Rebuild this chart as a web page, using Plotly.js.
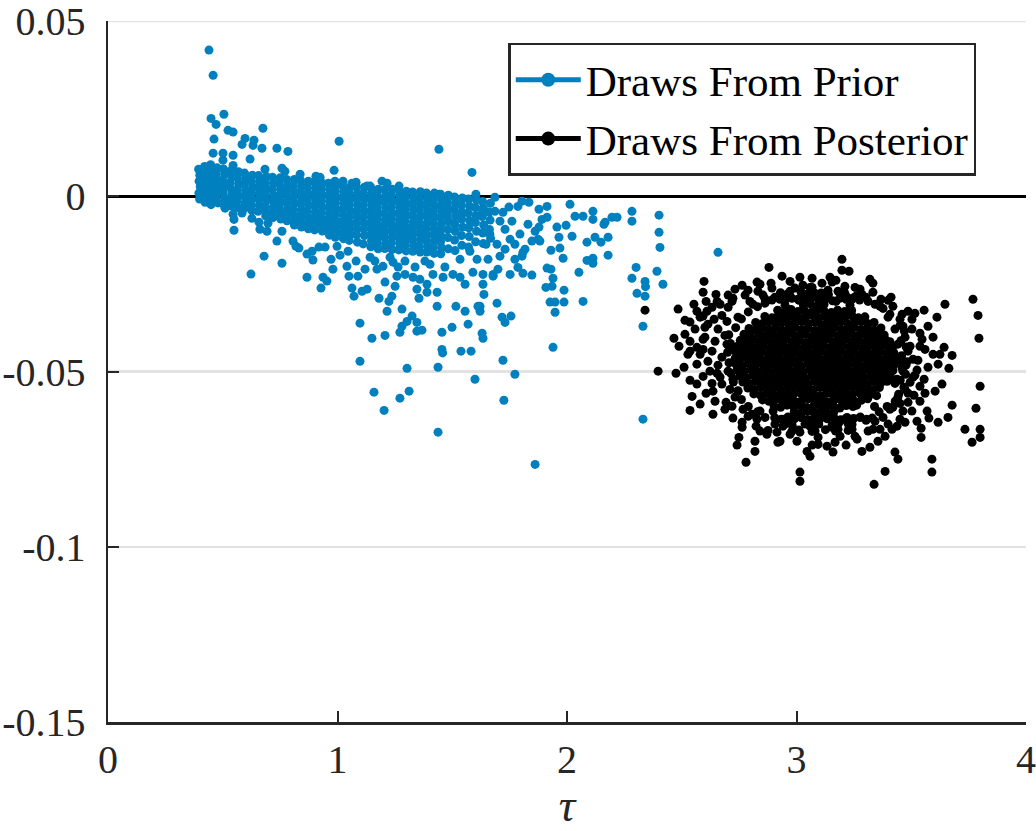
<!DOCTYPE html>
<html><head><meta charset="utf-8">
<script src="https://cdn.plot.ly/plotly-3.0.1.min.js"></script>
<style>html,body{margin:0;padding:0;background:#fff;}#chart{width:1036px;height:831px;}</style>
</head><body><div id="chart"></div>
<script>
const seriesNames = ['Draws From Prior', 'Draws From Posterior'];
const xTickVals = [0, 1, 2, 3, 4];
const xTickText = ['0', '1', '2', '3', '4'];
const yTickVals = [-0.15, -0.1, -0.05, 0, 0.05];
const yTickText = ['-0.15', '-0.1', '-0.05', '0', '0.05'];

const priorTau = [
0.395,0.400,0.397,0.402,0.396,0.399,
0.421,0.425,0.419,0.424,0.427,0.420,0.423,
0.447,0.452,0.445,0.450,0.454,0.446,0.451,0.449,
0.476,0.471,0.478,0.473,0.477,0.472,0.479,
0.503,0.508,0.501,0.506,0.502,0.509,0.504,
0.534,0.539,0.532,0.537,0.540,0.533,0.538,
0.568,0.563,0.569,0.564,0.567,0.562,0.566,
0.595,0.599,0.594,0.600,0.596,0.598,0.593,
0.629,0.624,0.630,0.626,0.628,0.623,0.627,
0.656,0.660,0.655,0.661,0.657,0.659,0.654,
0.690,0.685,0.689,0.686,0.691,0.684,0.688,0.687,
0.717,0.721,0.716,0.722,0.718,0.720,0.715,0.719,
0.751,0.746,0.752,0.747,0.750,0.745,0.749,0.753,
0.778,0.782,0.777,0.783,0.779,0.781,0.776,0.780,
0.812,0.807,0.811,0.808,0.813,0.806,0.810,0.809,0.812,
0.839,0.843,0.838,0.844,0.840,0.842,0.837,0.841,0.843,
0.873,0.868,0.872,0.869,0.874,0.867,0.871,0.870,0.873,
0.900,0.904,0.899,0.905,0.901,0.903,0.898,0.902,0.900,
0.934,0.929,0.933,0.930,0.935,0.928,0.932,0.931,0.934,
0.961,0.965,0.960,0.966,0.962,0.964,0.959,0.963,0.961,0.965,
0.995,0.990,0.994,0.991,0.996,0.989,0.993,0.992,0.995,0.990,
1.022,1.026,1.021,1.027,1.023,1.025,1.020,1.024,1.022,1.026,
1.056,1.051,1.055,1.052,1.057,1.050,1.054,1.053,1.056,1.051,
1.083,1.087,1.082,1.088,1.084,1.086,1.081,1.085,1.083,1.087,
1.117,1.112,1.116,1.113,1.118,1.111,1.115,1.114,1.117,1.112,
1.144,1.148,1.143,1.149,1.145,1.147,1.142,1.146,1.144,1.148,1.145,
1.178,1.173,1.177,1.174,1.179,1.172,1.176,1.175,1.178,1.173,1.177,
1.205,1.209,1.204,1.210,1.206,1.208,1.203,1.207,1.205,1.209,1.206,
1.239,1.234,1.238,1.235,1.240,1.233,1.237,1.236,1.239,1.234,1.238,
1.266,1.270,1.265,1.271,1.267,1.269,1.264,1.268,1.266,1.270,1.267,
1.300,1.295,1.299,1.296,1.301,1.294,1.298,1.297,1.300,1.295,1.299,
1.327,1.331,1.326,1.332,1.328,1.330,1.325,1.329,1.327,1.331,1.328,
1.361,1.356,1.360,1.357,1.362,1.355,1.359,1.358,1.361,1.356,1.360,
1.388,1.392,1.387,1.393,1.389,1.391,1.386,1.390,1.388,1.392,1.389,
1.422,1.417,1.421,1.418,1.423,1.416,1.420,1.419,1.422,1.417,1.421,
1.449,1.453,1.448,1.454,1.450,1.452,1.447,1.451,1.449,1.453,1.450,
1.483,1.478,1.482,1.479,1.484,1.480,1.481,1.483,
1.510,1.514,1.509,1.515,1.511,1.513,1.510,1.512,
1.544,1.540,1.543,1.541,1.545,1.540,1.542,
1.571,1.575,1.570,1.576,1.572,1.574,1.571,
1.605,1.600,1.604,1.601,1.606,1.602,
1.632,1.636,1.631,1.637,1.633,1.635,
1.666,1.661,1.665,1.662,1.667,
0.440,0.458,0.505,0.449,0.471,0.523,0.545,0.675,0.462,0.597,
0.636,0.584,0.632,0.671,0.458,0.501,0.545,0.736,0.784,1.007,
1.442,1.586,0.619,0.501,0.545,0.758,0.985,0.906,1.142,1.268,
1.128,1.442,1.603,0.684,0.771,0.837,0.924,0.989,1.081,1.063,
1.024,1.194,1.216,0.510,0.545,0.584,0.549,0.627,0.549,0.658,
0.662,0.697,0.693,0.736,0.758,0.680,0.758,0.623,0.806,0.832,
0.867,0.867,0.893,0.919,0.946,0.937,0.954,0.928,0.972,0.980,
0.998,1.041,1.050,1.063,1.072,1.089,1.107,1.129,1.098,1.150,
1.098,1.159,1.203,1.181,1.216,1.224,1.237,1.207,1.207,1.172,
1.198,1.242,1.259,1.251,1.281,1.272,1.281,1.303,1.325,1.346,
1.346,1.368,1.303,1.272,1.312,1.355,1.390,1.390,1.434,1.434,
1.455,1.455,1.458,1.438,1.438,1.499,1.516,1.538,1.582,1.556,
1.569,1.599,1.612,1.556,1.503,1.590,1.329,1.359,1.416,1.460,
1.294,1.346,0.819,0.889,1.011,1.081,1.142,1.046,1.120,1.163,
1.229,1.294,1.338,1.403,1.468,1.264,1.381,1.686,2.013,1.913,
1.878,1.834,1.804,1.786,1.747,1.721,2.035,2.070,2.113,2.113,
2.166,2.196,2.218,2.283,2.283,2.401,2.401,2.405,2.392,2.418,
2.301,2.283,2.340,2.342,2.305,2.340,2.331,2.331,1.861,1.939,
1.987,1.987,2.070,2.052,2.087,2.113,2.113,2.087,2.122,2.148,
2.179,2.179,2.161,2.022,1.983,1.969,1.956,1.965,1.996,1.930,
1.913,1.930,1.939,1.908,1.935,1.926,1.948,1.948,1.891,1.913,
1.878,1.874,1.847,1.817,1.804,1.773,1.786,1.752,1.808,1.847,
1.699,1.678,1.634,1.634,1.638,1.695,1.717,1.730,1.756,1.621,
1.621,1.630,1.634,1.721,1.773,1.725,1.678,1.808,1.708,1.656,
1.608,1.577,1.534,1.534,1.730,1.760,1.795,1.830,1.861,1.752,
1.708,1.664,1.695,1.773,1.730,1.647,1.686,1.630,1.882,2.658
];
const priorBeta = [
0.0077,0.0060,0.0043,0.0027,0.0009,-0.0008,
0.0085,0.0068,0.0052,0.0034,0.0017,0.0001,-0.0017,
0.0090,0.0074,0.0056,0.0040,0.0022,0.0005,-0.0011,-0.0024,
0.0081,0.0065,0.0047,0.0031,0.0015,-0.0003,-0.0019,
0.0078,0.0062,0.0044,0.0028,0.0010,-0.0006,-0.0024,
0.0072,0.0055,0.0039,0.0021,0.0005,-0.0013,-0.0028,
0.0070,0.0054,0.0036,0.0019,0.0002,-0.0014,-0.0032,
0.0066,0.0049,0.0033,0.0015,-0.0002,-0.0019,-0.0036,
0.0060,0.0043,0.0027,0.0009,-0.0008,-0.0025,-0.0041,
0.0059,0.0042,0.0025,0.0008,-0.0009,-0.0026,-0.0043,
0.0056,0.0039,0.0022,0.0005,-0.0012,-0.0029,-0.0045,-0.0056,
0.0054,0.0037,0.0020,0.0003,-0.0014,-0.0031,-0.0048,-0.0061,
0.0053,0.0036,0.0019,0.0002,-0.0015,-0.0032,-0.0049,-0.0065,
0.0048,0.0031,0.0014,-0.0003,-0.0020,-0.0037,-0.0054,-0.0070,
0.0048,0.0031,0.0014,-0.0003,-0.0020,-0.0037,-0.0054,-0.0071,-0.0082,
0.0045,0.0028,0.0011,-0.0006,-0.0023,-0.0040,-0.0057,-0.0074,-0.0088,
0.0043,0.0026,0.0009,-0.0008,-0.0025,-0.0042,-0.0059,-0.0076,-0.0093,
0.0040,0.0023,0.0006,-0.0011,-0.0028,-0.0045,-0.0062,-0.0079,-0.0096,
0.0037,0.0020,0.0003,-0.0014,-0.0031,-0.0048,-0.0065,-0.0082,-0.0099,
0.0037,0.0020,0.0003,-0.0014,-0.0031,-0.0048,-0.0065,-0.0082,-0.0098,-0.0111,
0.0031,0.0014,-0.0003,-0.0020,-0.0037,-0.0054,-0.0071,-0.0088,-0.0104,-0.0117,
0.0031,0.0014,-0.0003,-0.0020,-0.0037,-0.0054,-0.0071,-0.0088,-0.0105,-0.0121,
0.0026,0.0009,-0.0008,-0.0025,-0.0042,-0.0059,-0.0076,-0.0093,-0.0110,-0.0126,
0.0026,0.0009,-0.0008,-0.0025,-0.0042,-0.0059,-0.0076,-0.0093,-0.0110,-0.0131,
0.0026,0.0009,-0.0008,-0.0025,-0.0042,-0.0059,-0.0076,-0.0093,-0.0112,-0.0136,
0.0026,0.0009,-0.0008,-0.0025,-0.0042,-0.0059,-0.0076,-0.0093,-0.0110,-0.0127,-0.0144,
0.0020,0.0003,-0.0014,-0.0031,-0.0048,-0.0065,-0.0082,-0.0099,-0.0116,-0.0133,-0.0150,
0.0018,0.0001,-0.0016,-0.0033,-0.0050,-0.0067,-0.0084,-0.0101,-0.0118,-0.0135,-0.0149,
0.0020,0.0003,-0.0014,-0.0031,-0.0048,-0.0065,-0.0082,-0.0099,-0.0116,-0.0133,-0.0152,
0.0019,0.0002,-0.0015,-0.0032,-0.0049,-0.0066,-0.0083,-0.0100,-0.0117,-0.0134,-0.0153,
0.0014,-0.0003,-0.0020,-0.0037,-0.0054,-0.0071,-0.0088,-0.0105,-0.0122,-0.0139,-0.0156,
0.0012,-0.0005,-0.0022,-0.0039,-0.0056,-0.0073,-0.0090,-0.0107,-0.0124,-0.0141,-0.0157,
0.0013,-0.0004,-0.0021,-0.0038,-0.0055,-0.0072,-0.0089,-0.0106,-0.0123,-0.0141,-0.0159,
0.0009,-0.0008,-0.0025,-0.0042,-0.0059,-0.0076,-0.0093,-0.0110,-0.0127,-0.0144,-0.0159,
0.0009,-0.0008,-0.0025,-0.0042,-0.0059,-0.0076,-0.0093,-0.0110,-0.0127,-0.0145,-0.0163,
0.0006,-0.0011,-0.0028,-0.0045,-0.0062,-0.0079,-0.0096,-0.0113,-0.0130,-0.0147,-0.0164,
0.0003,-0.0016,-0.0033,-0.0055,-0.0072,-0.0095,-0.0118,-0.0150,
-0.0002,-0.0020,-0.0040,-0.0058,-0.0080,-0.0100,-0.0125,-0.0155,
-0.0005,-0.0025,-0.0045,-0.0065,-0.0088,-0.0112,-0.0140,
-0.0008,-0.0028,-0.0048,-0.0070,-0.0090,-0.0115,-0.0145,
-0.0010,-0.0032,-0.0055,-0.0075,-0.0100,-0.0130,
-0.0015,-0.0035,-0.0058,-0.0082,-0.0105,-0.0135,
-0.0020,-0.0045,-0.0068,-0.0095,-0.0120,
0.0417,0.0345,0.0234,0.0222,0.0205,0.0188,0.0183,0.0194,0.0163,0.0165,
0.0160,0.0148,0.0145,0.0137,0.0123,0.0123,0.0117,0.0137,0.0128,0.0157,
0.0134,0.0068,0.0106,0.0103,0.0088,0.0080,0.0074,0.0057,0.0029,0.0029,
0.0029,0.0006,0.0006,0.0077,0.0071,0.0063,0.0054,0.0043,0.0040,0.0037,
0.0043,0.0043,0.0037,-0.0034,-0.0051,-0.0048,-0.0066,-0.0063,-0.0097,-0.0074,
-0.0094,-0.0077,-0.0100,-0.0128,-0.0100,-0.0171,-0.0191,-0.0222,-0.0128,-0.0148,
-0.0165,-0.0231,-0.0182,-0.0145,-0.0145,-0.0231,-0.0242,-0.0262,-0.0180,-0.0208,
-0.0143,-0.0200,-0.0228,-0.0262,-0.0285,-0.0228,-0.0271,-0.0265,-0.0362,-0.0405,
-0.0471,-0.0559,-0.0611,-0.0291,-0.0328,-0.0300,-0.0285,-0.0397,-0.0245,-0.0208,
-0.0200,-0.0188,-0.0228,-0.0257,-0.0322,-0.0388,-0.0371,-0.0357,-0.0342,-0.0360,
-0.0385,-0.0382,-0.0491,-0.0576,-0.0556,-0.0291,-0.0274,-0.0251,-0.0314,-0.0274,
-0.0388,-0.0437,-0.0447,-0.0488,-0.0673,-0.0374,-0.0314,-0.0442,-0.0442,-0.0328,
-0.0365,-0.0522,-0.0314,-0.0251,-0.0223,-0.0217,-0.0231,-0.0237,-0.0223,-0.0231,
-0.0223,-0.0265,-0.0143,-0.0157,-0.0168,-0.0185,-0.0174,-0.0157,-0.0208,-0.0185,
-0.0174,-0.0185,-0.0202,-0.0194,-0.0202,-0.0202,-0.0185,-0.0003,-0.0023,-0.0029,
-0.0037,-0.0017,-0.0014,-0.0029,-0.0031,-0.0046,-0.0057,-0.0057,-0.0043,-0.0066,
-0.0074,-0.0060,-0.0060,-0.0043,-0.0071,-0.0054,-0.0103,-0.0146,-0.0214,-0.0251,
-0.0203,-0.0234,-0.0243,-0.0258,-0.0277,-0.0285,-0.0371,-0.0636,-0.0765,-0.0431,
-0.0268,-0.0302,-0.0300,-0.0217,-0.0183,-0.0177,-0.0191,-0.0131,-0.0117,-0.0131,
-0.0117,-0.0168,-0.0080,-0.0114,-0.0177,-0.0148,-0.0088,-0.0117,-0.0083,-0.0154,
-0.0205,-0.0208,-0.0234,-0.0260,-0.0257,-0.0302,-0.0302,-0.0331,-0.0066,-0.0060,
-0.0088,-0.0123,-0.0128,-0.0151,-0.0171,-0.0180,-0.0203,-0.0223,-0.0220,-0.0225,
-0.0208,-0.0223,-0.0223,-0.0251,-0.0280,-0.0305,-0.0345,-0.0360,-0.0342,-0.0314,
-0.0328,-0.0391,-0.0405,-0.0468,-0.0508,-0.0582,-0.0228,-0.0160,-0.0171,-0.0180,
-0.0180,-0.0157,-0.0180,-0.0231,-0.0094,-0.0071,-0.0108,-0.0080,-0.0100,-0.0123,
-0.0071,-0.0108,-0.0137,-0.0137,-0.0151,-0.0137,-0.0043,-0.0037,-0.0128,-0.0160
];

const postTau = [
3.030,3.061,3.089,3.120,
2.918,2.949,2.976,3.006,3.034,3.065,3.092,3.121,3.152,3.179,3.210,3.240,
2.862,2.893,2.920,2.951,2.979,3.010,3.037,3.068,3.095,3.125,3.153,3.184,3.211,3.242,3.270,3.298,
2.822,2.850,2.879,2.908,2.936,2.966,2.993,3.023,3.051,3.080,3.109,3.137,3.166,3.194,3.224,3.252,3.281,3.309,3.338,
2.793,2.821,2.851,2.879,2.909,2.937,2.965,2.995,3.023,3.052,3.081,3.110,3.138,3.167,3.196,3.224,3.253,3.282,3.311,3.339,3.368,
2.771,2.799,2.836,2.865,2.893,2.922,2.951,2.980,3.008,3.037,3.066,3.095,3.123,3.152,3.181,3.210,3.238,3.267,3.296,3.325,3.353,3.382,
2.755,2.784,2.812,2.841,2.870,2.898,2.928,2.956,2.985,3.014,3.043,3.071,3.100,3.129,3.158,3.186,3.215,3.244,3.272,3.301,3.330,3.359,3.387,3.407,
2.743,2.770,2.799,2.827,2.856,2.885,2.913,2.942,2.971,3.000,3.028,3.057,3.086,3.115,3.143,3.172,3.201,3.230,3.258,3.287,3.316,3.345,3.373,3.402,3.420,
2.737,2.766,2.794,2.822,2.851,2.880,2.908,2.937,2.966,2.994,3.023,3.052,3.080,3.109,3.138,3.166,3.195,3.224,3.252,3.281,3.310,3.338,3.367,3.396,3.424,
2.733,2.750,2.779,2.808,2.837,2.865,2.894,2.923,2.951,2.980,3.009,3.037,3.066,3.095,3.123,3.152,3.181,3.209,3.238,3.267,3.295,3.324,3.353,3.381,3.410,3.429,
2.736,2.764,2.793,2.822,2.850,2.879,2.908,2.936,2.965,2.994,3.022,3.051,3.080,3.108,3.137,3.166,3.194,3.223,3.252,3.280,3.309,3.338,3.366,3.395,3.426,
2.741,2.770,2.799,2.828,2.857,2.885,2.914,2.943,2.971,3.000,3.029,3.057,3.086,3.115,3.143,3.172,3.201,3.229,3.258,3.287,3.315,3.344,3.373,3.401,3.420,
2.752,2.781,2.809,2.838,2.867,2.895,2.924,2.953,2.981,3.010,3.039,3.067,3.096,3.125,3.153,3.182,3.211,3.239,3.268,3.297,3.325,3.354,3.383,3.410,
2.766,2.794,2.823,2.852,2.880,2.909,2.938,2.966,2.995,3.024,3.052,3.081,3.110,3.138,3.167,3.196,3.224,3.253,3.282,3.310,3.339,3.368,3.395,
2.788,2.816,2.845,2.874,2.902,2.931,2.960,2.988,3.017,3.046,3.074,3.103,3.132,3.160,3.189,3.218,3.246,3.275,3.304,3.332,3.361,
2.814,2.843,2.871,2.900,2.929,2.957,2.986,3.015,3.043,3.072,3.101,3.129,3.158,3.187,3.215,3.244,3.273,3.301,3.330,3.349,
2.852,2.880,2.909,2.938,2.966,2.995,3.024,3.052,3.081,3.110,3.138,3.167,3.196,3.224,3.253,3.282,3.310,
2.902,2.931,2.959,2.988,3.017,3.045,3.074,3.103,3.131,3.160,3.189,3.217,3.246,3.262,
2.990,3.019,3.047,3.076,3.105,3.133,3.162,
2.862,2.893,2.921,2.952,2.980,3.011,3.039,3.070,3.098,3.129,3.157,3.188,3.216,3.247,3.275,
2.930,2.961,3.020,3.049,3.108,3.139,3.198,
2.905,2.934,2.962,2.991,3.020,3.048,3.077,3.106,3.134,3.163,3.192,3.220,3.249,3.278,3.306,3.330,
2.952,2.981,3.039,3.068,3.097,3.155,3.184,3.242,
3.010,3.068,3.126,3.170,3.225,
3.452,3.470,3.455,3.478,3.458,3.482,3.460,3.475,3.452,3.468,3.445,3.430,3.395,3.360,3.340,
2.705,2.712,2.700,2.706,2.714,2.725,2.745,2.760,2.790,2.830,2.735,2.760,2.790,2.830,
2.340,2.484,2.514,2.466,2.397,2.475,2.536,2.545,2.536,2.636,
2.880,2.937,3.198,3.198,3.229,3.333,3.769,3.791,3.795,3.800,
3.782,3.734,3.800,3.765,3.800,3.678,3.664,3.678,3.660,3.617,
3.577,3.604,3.612,3.556,3.486,3.573,3.595,3.643,3.590,3.590,
3.543,3.543,3.386,3.429,3.442,3.338,3.015,3.015,2.780,2.819,
2.819,2.741,2.749,2.871,2.915,2.919,2.693,2.723,2.763,2.763,
2.654,2.593,2.636,2.719,2.488,2.527,2.566,2.580,2.593,2.593,
2.597,2.606,2.610,2.654,2.593,2.732,2.719,2.702,2.889,3.028,
3.059,3.146,3.155,3.211,3.255,3.259,3.220,3.368,3.412,3.312,
3.516,3.377,3.407,3.547,3.625,3.595,3.538,3.508,3.525,3.495,
3.538,3.560,3.512,3.486,3.525,3.473,3.438,3.386,3.355,3.320,
3.285,3.312,3.264,3.159,3.168,3.133,3.094,3.059,3.046,3.002,
3.015,2.980,2.941,2.828,2.806,2.767,2.776,2.832,2.906,2.972,
3.007,3.081,3.124,3.181,3.285,3.342,2.863,2.950,3.050,3.233,
2.841,2.972,3.111,2.797,2.702,2.763,2.632,2.675,2.614,2.658,
2.697,2.601,2.645,2.688,2.632,2.675,2.710,2.614,2.658,2.702,
2.675,2.710,2.632,2.732,2.558,2.536,2.566,2.514,2.580,2.553,
2.649,3.451,3.429,3.473,3.442,3.486,3.451,3.464,3.438,3.473,
3.442,3.420,3.464,3.503,3.516,3.399,3.407,2.863,2.906,2.993,
3.037,3.081,3.102,3.155,3.211,3.242,3.277,3.342,3.364,3.399,
3.190,2.972,2.841,3.647,
2.723,2.789,2.810,2.854,2.893,2.928,2.993,3.028,3.068,3.102,
3.137,3.172,3.211,3.242,3.277,3.303,3.333,3.364,3.399,2.828,
3.068,3.172,3.320,3.015,
2.566,2.601,2.641,2.667,2.593,2.536,2.623,2.667,2.566,2.606,
2.645,2.688,2.723,2.745,2.697,2.536,2.510,2.580,2.745,
3.420,3.460,3.503,3.538,3.464,3.560,3.495,3.529,3.573,3.477,
3.508,3.556,3.429,3.486,3.538,3.451,3.503,3.569,3.617,3.634,
2.789,2.824,2.876,2.898,2.946,2.980,3.020,3.059,3.094,3.129,
3.181,3.224,3.255,3.303,3.333,3.377,3.416,3.451,2.928,3.068,
3.216,2.841
];
const postBeta = [
-0.0312,-0.0307,-0.0314,-0.0309,
-0.0325,-0.0330,-0.0323,-0.0329,-0.0326,-0.0331,-0.0324,-0.0328,-0.0332,-0.0325,-0.0329,-0.0326,
-0.0343,-0.0347,-0.0341,-0.0346,-0.0342,-0.0348,-0.0344,-0.0340,-0.0346,-0.0343,-0.0349,-0.0342,-0.0345,-0.0341,-0.0347,-0.0344,
-0.0360,-0.0364,-0.0358,-0.0363,-0.0359,-0.0365,-0.0361,-0.0357,-0.0363,-0.0360,-0.0366,-0.0359,-0.0362,-0.0358,-0.0364,-0.0361,-0.0357,-0.0363,-0.0360,
-0.0377,-0.0381,-0.0375,-0.0380,-0.0376,-0.0382,-0.0378,-0.0374,-0.0380,-0.0377,-0.0383,-0.0376,-0.0379,-0.0375,-0.0381,-0.0378,-0.0374,-0.0380,-0.0377,-0.0382,-0.0376,
-0.0394,-0.0398,-0.0392,-0.0397,-0.0393,-0.0399,-0.0395,-0.0391,-0.0397,-0.0394,-0.0400,-0.0393,-0.0396,-0.0392,-0.0398,-0.0395,-0.0391,-0.0397,-0.0394,-0.0399,-0.0393,-0.0396,
-0.0411,-0.0415,-0.0409,-0.0414,-0.0410,-0.0416,-0.0412,-0.0408,-0.0414,-0.0411,-0.0417,-0.0410,-0.0413,-0.0409,-0.0415,-0.0412,-0.0408,-0.0414,-0.0411,-0.0416,-0.0410,-0.0413,-0.0409,-0.0415,
-0.0428,-0.0432,-0.0426,-0.0431,-0.0427,-0.0433,-0.0429,-0.0425,-0.0431,-0.0428,-0.0434,-0.0427,-0.0430,-0.0426,-0.0432,-0.0429,-0.0425,-0.0431,-0.0428,-0.0433,-0.0427,-0.0430,-0.0426,-0.0432,-0.0429,
-0.0445,-0.0449,-0.0443,-0.0448,-0.0444,-0.0450,-0.0446,-0.0442,-0.0448,-0.0445,-0.0451,-0.0444,-0.0447,-0.0443,-0.0449,-0.0446,-0.0442,-0.0448,-0.0445,-0.0450,-0.0444,-0.0447,-0.0443,-0.0449,-0.0446,
-0.0462,-0.0466,-0.0460,-0.0465,-0.0461,-0.0467,-0.0463,-0.0459,-0.0465,-0.0462,-0.0468,-0.0461,-0.0464,-0.0460,-0.0466,-0.0463,-0.0459,-0.0465,-0.0462,-0.0467,-0.0461,-0.0464,-0.0460,-0.0466,-0.0463,-0.0461,
-0.0479,-0.0483,-0.0477,-0.0482,-0.0478,-0.0484,-0.0480,-0.0476,-0.0482,-0.0479,-0.0485,-0.0478,-0.0481,-0.0477,-0.0483,-0.0480,-0.0476,-0.0482,-0.0479,-0.0484,-0.0478,-0.0481,-0.0477,-0.0483,-0.0480,
-0.0496,-0.0500,-0.0494,-0.0499,-0.0495,-0.0501,-0.0497,-0.0493,-0.0499,-0.0496,-0.0502,-0.0495,-0.0498,-0.0494,-0.0500,-0.0497,-0.0493,-0.0499,-0.0496,-0.0501,-0.0495,-0.0498,-0.0494,-0.0500,-0.0497,
-0.0513,-0.0517,-0.0511,-0.0516,-0.0512,-0.0518,-0.0514,-0.0510,-0.0516,-0.0513,-0.0519,-0.0512,-0.0515,-0.0511,-0.0517,-0.0514,-0.0510,-0.0516,-0.0513,-0.0518,-0.0512,-0.0515,-0.0511,-0.0517,
-0.0530,-0.0534,-0.0528,-0.0533,-0.0529,-0.0535,-0.0531,-0.0527,-0.0533,-0.0530,-0.0536,-0.0529,-0.0532,-0.0528,-0.0534,-0.0531,-0.0527,-0.0533,-0.0530,-0.0535,-0.0529,-0.0532,-0.0528,
-0.0547,-0.0551,-0.0545,-0.0550,-0.0546,-0.0552,-0.0548,-0.0544,-0.0550,-0.0547,-0.0553,-0.0546,-0.0549,-0.0545,-0.0551,-0.0548,-0.0544,-0.0550,-0.0547,-0.0552,-0.0546,
-0.0564,-0.0568,-0.0562,-0.0567,-0.0563,-0.0569,-0.0565,-0.0561,-0.0567,-0.0564,-0.0570,-0.0563,-0.0566,-0.0562,-0.0568,-0.0565,-0.0561,-0.0567,-0.0564,-0.0569,
-0.0581,-0.0585,-0.0579,-0.0584,-0.0580,-0.0586,-0.0582,-0.0578,-0.0584,-0.0581,-0.0587,-0.0580,-0.0583,-0.0579,-0.0585,-0.0582,-0.0578,
-0.0598,-0.0602,-0.0596,-0.0601,-0.0597,-0.0603,-0.0599,-0.0595,-0.0601,-0.0598,-0.0604,-0.0597,-0.0600,-0.0596,
-0.0615,-0.0619,-0.0613,-0.0618,-0.0614,-0.0620,-0.0616,
-0.0292,-0.0296,-0.0290,-0.0295,-0.0291,-0.0297,-0.0293,-0.0289,-0.0295,-0.0292,-0.0298,-0.0291,-0.0294,-0.0290,-0.0296,
-0.0275,-0.0279,-0.0274,-0.0278,-0.0276,-0.0280,-0.0273,
-0.0632,-0.0636,-0.0630,-0.0635,-0.0631,-0.0637,-0.0633,-0.0629,-0.0635,-0.0632,-0.0638,-0.0631,-0.0634,-0.0630,-0.0636,-0.0633,
-0.0649,-0.0653,-0.0648,-0.0652,-0.0650,-0.0654,-0.0647,-0.0651,
-0.0667,-0.0671,-0.0666,-0.0670,-0.0668,
-0.0368,-0.0385,-0.0412,-0.0430,-0.0455,-0.0472,-0.0490,-0.0508,-0.0525,-0.0545,-0.0565,-0.0585,-0.0600,-0.0615,-0.0600,
-0.0395,-0.0420,-0.0445,-0.0475,-0.0505,-0.0530,-0.0555,-0.0580,-0.0600,-0.0615,-0.0375,-0.0350,-0.0330,-0.0315,
-0.0325,-0.0322,-0.0354,-0.0405,-0.0499,-0.0505,-0.0525,-0.0571,-0.0611,-0.0622,
-0.0203,-0.0228,-0.0180,-0.0211,-0.0214,-0.0248,-0.0294,-0.0340,-0.0405,-0.0542,
-0.0605,-0.0665,-0.0665,-0.0702,-0.0688,-0.0454,-0.0491,-0.0596,-0.0631,-0.0645,
-0.0633,-0.0556,-0.0345,-0.0325,-0.0328,-0.0371,-0.0402,-0.0431,-0.0750,-0.0787,
-0.0688,-0.0662,-0.0785,-0.0730,-0.0750,-0.0822,-0.0787,-0.0813,-0.0759,-0.0728,
-0.0699,-0.0710,-0.0688,-0.0679,-0.0673,-0.0702,-0.0588,-0.0633,-0.0645,-0.0659,
-0.0505,-0.0514,-0.0556,-0.0599,-0.0428,-0.0451,-0.0431,-0.0451,-0.0408,-0.0274,
-0.0243,-0.0300,-0.0328,-0.0300,-0.0342,-0.0265,-0.0300,-0.0317,-0.0248,-0.0254,
-0.0260,-0.0231,-0.0245,-0.0257,-0.0260,-0.0285,-0.0288,-0.0294,-0.0288,-0.0300,
-0.0334,-0.0320,-0.0337,-0.0408,-0.0451,-0.0451,-0.0428,-0.0465,-0.0496,-0.0531,
-0.0542,-0.0562,-0.0568,-0.0588,-0.0642,-0.0645,-0.0656,-0.0685,-0.0699,-0.0716,
-0.0728,-0.0670,-0.0693,-0.0730,-0.0702,-0.0713,-0.0708,-0.0742,-0.0728,-0.0699,
-0.0673,-0.0642,-0.0656,-0.0636,-0.0622,-0.0608,-0.0282,-0.0271,-0.0288,-0.0271,
-0.0294,-0.0277,-0.0294,-0.0271,-0.0280,-0.0308,-0.0305,-0.0311,-0.0302,-0.0311,
-0.0251,-0.0243,-0.0248,-0.0300,-0.0282,-0.0254,-0.0317,-0.0340,-0.0365,-0.0379,
-0.0357,-0.0402,-0.0414,-0.0397,-0.0442,-0.0459,-0.0431,-0.0471,-0.0482,-0.0499,
-0.0536,-0.0551,-0.0534,-0.0573,-0.0379,-0.0414,-0.0479,-0.0394,-0.0345,-0.0308,
-0.0280,-0.0351,-0.0379,-0.0402,-0.0422,-0.0442,-0.0471,-0.0499,-0.0522,-0.0551,
-0.0573,-0.0602,-0.0613,-0.0379,-0.0511,-0.0345,-0.0608,-0.0631,-0.0650,-0.0622,
-0.0650,-0.0670,-0.0636,-0.0659,-0.0636,-0.0665,-0.0631,-0.0642,-0.0665,-0.0650,
-0.0685,-0.0679,-0.0670,-0.0308,
-0.0291,-0.0268,-0.0308,-0.0282,-0.0262,-0.0294,-0.0262,-0.0282,-0.0260,-0.0285,
-0.0268,-0.0300,-0.0277,-0.0294,-0.0265,-0.0288,-0.0274,-0.0314,-0.0297,-0.0245,
-0.0234,-0.0240,-0.0237,-0.0231,
-0.0328,-0.0374,-0.0351,-0.0308,-0.0437,-0.0442,-0.0499,-0.0516,-0.0536,-0.0562,
-0.0585,-0.0608,-0.0522,-0.0345,-0.0422,-0.0359,-0.0488,-0.0593,-0.0556,
-0.0314,-0.0337,-0.0351,-0.0391,-0.0371,-0.0437,-0.0428,-0.0468,-0.0488,-0.0482,
-0.0516,-0.0522,-0.0534,-0.0562,-0.0585,-0.0591,-0.0613,-0.0613,-0.0479,-0.0536,
-0.0628,-0.0656,-0.0668,-0.0613,-0.0636,-0.0670,-0.0631,-0.0656,-0.0688,-0.0631,
-0.0665,-0.0648,-0.0685,-0.0639,-0.0665,-0.0631,-0.0665,-0.0636,-0.0699,-0.0710,
-0.0710,-0.0613
];

const blue = '#0080BE';
const black = '#000000';
const axisCol = '#262626';
const gridCol = '#e2e2e2';
const serif = 'Liberation Serif';

const traces = [
  {x: priorTau, y: priorBeta, type: 'scatter', mode: 'markers', name: seriesNames[0],
   marker: {color: blue, size: 9}, showlegend: false, hoverinfo: 'skip'},
  {x: postTau, y: postBeta, type: 'scatter', mode: 'markers', name: seriesNames[1],
   marker: {color: black, size: 9}, showlegend: false, hoverinfo: 'skip'},
  {x: [null], y: [null], type: 'scatter', mode: 'lines+markers', name: seriesNames[0],
   line: {color: blue, width: 5}, marker: {color: blue, size: 14}},
  {x: [null], y: [null], type: 'scatter', mode: 'lines+markers', name: seriesNames[1],
   line: {color: black, width: 5}, marker: {color: black, size: 14}}
];

const yTop = yTickVals[yTickVals.length - 1];

const layout = {
  width: 1036, height: 831,
  margin: {l: 108, r: 10, t: 21, b: 109, pad: 0},
  paper_bgcolor: '#ffffff', plot_bgcolor: '#ffffff',
  font: {family: serif, size: 40, color: axisCol},
  showlegend: true,
  xaxis: {
    range: [0, 4], tickvals: xTickVals, ticktext: xTickText,
    ticks: 'inside', ticklen: 11, tickwidth: 2, tickcolor: axisCol,
    showline: true, linecolor: axisCol, linewidth: 2.5,
    showgrid: false, zeroline: false, ticklabeloverflow: 'allow',
    tickfont: {family: serif, size: 40, color: axisCol},
    title: {text: '<i>τ</i>', font: {family: serif, size: 46, color: axisCol}, standoff: 8}
  },
  yaxis: {
    range: [-0.15, 0.05], tickvals: yTickVals, ticktext: yTickText,
    ticks: 'inside', ticklen: 11, tickwidth: 2, tickcolor: axisCol,
    showline: true, linecolor: axisCol, linewidth: 2.5,
    showgrid: true, gridcolor: gridCol, gridwidth: 2.5,
    zeroline: true, zerolinecolor: '#000000', zerolinewidth: 2.5,
    ticklabelstandoff: 12, ticklabeloverflow: 'allow',
    tickfont: {family: serif, size: 40, color: axisCol}
  },
  shapes: [
    {type: 'line', xref: 'paper', x0: 0, x1: 1, yref: 'y', y0: yTop, y1: yTop,
     line: {color: gridCol, width: 2.5}, layer: 'below'}
  ],
  legend: {
    x: 0.436, y: 0.969, xanchor: 'left', yanchor: 'top',
    bgcolor: '#ffffff', bordercolor: axisCol, borderwidth: 2.5,
    font: {family: serif, size: 43, color: '#000000'},
    itemwidth: 65, tracegroupgap: 0
  }
};

Plotly.newPlot('chart', traces, layout, {staticPlot: true, displayModeBar: false});
</script>
</body></html>
